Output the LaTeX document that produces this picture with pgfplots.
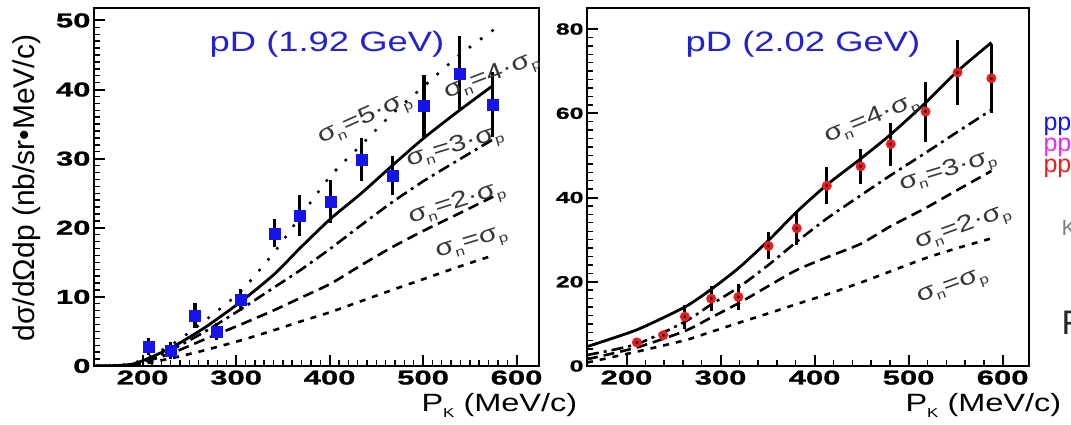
\documentclass[border=0pt]{standalone}
\usepackage{fontspec}
\setmainfont{Liberation Sans}
\newfontfamily\tickfont[FakeStretch=1.55, BoldFeatures={FakeBold=1.2}]{Liberation Sans}
\newfontfamily\widefont[FakeStretch=1.3]{Liberation Sans}
\usepackage{pgfplots}
\pgfplotsset{compat=1.18}
\usepackage{pgfplotstable}

\definecolor{ptblue}{RGB}{20,20,235}
\definecolor{ttlblue}{RGB}{35,35,205}
\definecolor{ppmag}{RGB}{235,40,235}
\definecolor{ppred}{RGB}{235,30,30}
\definecolor{lblgray}{RGB}{55,55,55}

% pD at 1.92 GeV: measured K+ spectrum
\pgfplotstableread{
x    y     e
206  2.8   1.2
230  2.2   1.2
256  7.3   1.8
279  5.0   1.2
305  9.6   1.6
341  19.2  2.0
368  21.8  3.0
401  23.8  3.1
434  29.9  3.1
467  27.6  2.8
501  37.6  4.5
539  42.3  5.4
574  37.8  4.7
}\dataA

% model curves for sigma_n = k * sigma_p (k = 1..5)
\pgfplotstableread{
x    k1    k2    k3    k4    k5
150  0.0   0.0   0.0   0.0   0.0
190  0.1   0.2   0.2   0.3   0.4
230  1.1   1.8   2.3   2.6   3.0
267  2.3   3.9   5.0   5.6   6.6
305  3.7   6.0   8.2   9.3   10.8
341  5.2   8.1   11.4  13.3  16.5
368  6.4   9.8   13.8  17.0  21.5
401  7.8   11.9  17.0  21.3  27.5
434  9.4   14.6  20.4  25.0  32.0
467  11.0  17.2  23.7  29.0  36.5
501  12.6  19.6  26.8  33.0  40.5
539  14.4  22.1  29.9  37.0  45.0
575  16.0  24.5  32.8  40.6  48.6
}\modelA

% pD at 2.02 GeV: measured K+ spectrum
\pgfplotstableread{
x    y     e
211  5.6   1.0
239  7.3   1.0
262  11.7  2.8
290  16.0  3.0
319  16.4  3.0
351  28.5  3.2
381  32.7  4.0
413  42.8  4.4
449  47.4  4.2
481  52.7  5.1
518  60.4  7.1
552  69.7  7.7
588  68.3  8.2
}\dataB

\pgfplotstableread{
x    k1    k2    k3    k4
158  0.8   1.6   2.6   4.6
211  3.4   4.4   5.2   8.6
262  6.1   8.3   10.5  14.0
290  8.1   11.5  14.6  18.2
320  10.3  15.0  18.8  23.4
351  12.5  19.0  24.0  29.8
381  14.7  22.8  29.5  36.6
413  17.0  25.8  35.0  43.0
449  19.8  29.0  40.5  49.2
481  22.5  33.2  45.3  55.0
518  25.6  37.5  50.6  62.5
552  28.0  41.8  55.6  70.0
588  30.3  46.3  60.8  76.8
}\modelB

\pgfplotsset{
  rootaxis/.style={
    scale only axis,
    anchor=south west,
    axis line style={line width=2.8pt},
    tick align=inside,
    xtick pos=bottom, ytick pos=left,
    major tick length=11pt, minor tick length=5.5pt,
    major tick style={line width=2pt, black},
    minor tick style={line width=1.4pt, black},
    xtick={200,300,...,600},
    /pgf/number format/assume math mode=true,
    x tick label style={font=\tickfont\bfseries\fontsize{20}{20}\selectfont, yshift=-1pt},
  },
  m1/.style={black, line width=2.6pt, dash pattern=on 6pt off 7pt, smooth, tension=0.4},
  m2/.style={black, line width=2.6pt, dash pattern=on 11pt off 6pt, smooth, tension=0.4},
  m3/.style={black, line width=2.6pt, dash pattern=on 12pt off 5pt on 3pt off 5pt, smooth, tension=0.4},
  m4/.style={black, line width=2.8pt, smooth, tension=0.4},
  m5/.style={black, line width=3.6pt, line cap=round, dash pattern=on 0pt off 14pt, smooth, tension=0.4},
}

\newcommand{\sg}[1]{σ\raisebox{-5pt}{\fontsize{13}{13}\selectfont n}=#1σ\raisebox{-5pt}{\fontsize{13}{13}\selectfont p}}
\newcommand{\PK}{P\raisebox{-6pt}{\fontsize{13}{13}\selectfont K} (MeV/c)}

\begin{document}
\begin{tikzpicture}[x=1pt,y=1pt]
\coordinate (leftSW) at (94,59);
\coordinate (rightSW) at (587,59);

% ---- left panel: 1.92 GeV ----
\begin{axis}[rootaxis, at={(leftSW)}, width=445pt, height=358pt,
  xmin=148, xmax=624, ymin=0, ymax=51.8,
  ytick={0,10,...,50}, minor x tick num=9, minor y tick num=9,
  y tick label style={font=\tickfont\bfseries\fontsize{20}{20}\selectfont}]
\addplot[m1] table[x=x,y=k1] {\modelA};
\addplot[m2] table[x=x,y=k2] {\modelA};
\addplot[m3] table[x=x,y=k3] {\modelA};
\addplot[m5] table[x=x,y=k5] {\modelA};
\addplot[m4] table[x=x,y=k4] {\modelA};
\addplot[only marks, mark=square*, mark size=5.5pt, ptblue,
  error bars/.cd, y dir=both, y explicit,
  error bar style={line width=3.2pt, black}, error mark=none]
  table[x=x, y=y, y error=e] {\dataA};
\end{axis}

% ---- right panel: 2.02 GeV ----
\begin{axis}[rootaxis, at={(rightSW)}, width=442pt, height=358pt,
  xmin=158, xmax=628, ymin=0, ymax=85,
  ytick={0,20,...,80}, minor x tick num=4, minor y tick num=9,
  y tick label style={font=\tickfont\bfseries\fontsize{16}{16}\selectfont}]
\addplot[m1] table[x=x,y=k1] {\modelB};
\addplot[m2] table[x=x,y=k2] {\modelB};
\addplot[m3] table[x=x,y=k3] {\modelB};
\addplot[m4] table[x=x,y=k4] {\modelB};
\addplot[only marks, mark=o, mark size=3.3pt,
  mark options={draw=ppred, fill=white, line width=3.2pt},
  error bars/.cd, y dir=both, y explicit,
  error bar style={line width=3.2pt, black}, error mark=none]
  table[x=x, y=y, y error=e] {\dataB};
\end{axis}

% panel titles
\node[ttlblue, font=\widefont\fontsize{28}{28}\selectfont] at (327,381) {pD (1.92 GeV)};
\node[ttlblue, font=\widefont\fontsize{28}{28}\selectfont] at (803,381) {pD (2.02 GeV)};

% axis titles
\node[rotate=90, font=\fontsize{30}{30}\selectfont] at (27,237) {dσ/dΩdp (nb/sr•MeV/c)};
\node[anchor=west, font=\widefont\fontsize{25}{25}\selectfont] at (418,20) {\PK};
\node[anchor=west, font=\widefont\fontsize{25}{25}\selectfont] at (902,20) {\PK};

% curve labels
\begin{scope}
\clip (94,59) rectangle (539,417);
\tikzset{every node/.style={lblgray, font=\widefont\fontsize{23}{23}\selectfont}}
\node[rotate=24] at (365,305) {\sg{5·}};
\node[rotate=21] at (492,348) {\sg{4·}};
\node[rotate=17] at (455,277) {\sg{3·}};
\node[rotate=18] at (457,221) {\sg{2·}};
\node[rotate=17] at (472,180) {\sg{}};
\end{scope}
\begin{scope}
\tikzset{every node/.style={lblgray, font=\widefont\fontsize{23}{23}\selectfont}}
\node[rotate=22] at (872,305) {\sg{4·}};
\node[rotate=17] at (948,253) {\sg{3·}};
\node[rotate=20] at (963,197) {\sg{2·}};
\node[rotate=20] at (953,137) {\sg{}};
\end{scope}

% legend column at the right edge
\node[anchor=west, ptblue, font=\fontsize{25}{25}\selectfont] at (1040,299) {pp};
\node[anchor=west, ppmag, font=\fontsize{25}{25}\selectfont] at (1040,278) {pp};
\node[anchor=west, ppred, font=\fontsize{25}{25}\selectfont] at (1040,257) {pp};
\node[anchor=west, gray, font=\fontsize{22}{22}\selectfont] at (1058,197) {K};
\node[anchor=west, black!85, font=\fontsize{34}{34}\selectfont] at (1058,102) {F};

\pgfresetboundingbox
\useasboundingbox (0,0) rectangle (1071,425);
\end{tikzpicture}
\end{document}
